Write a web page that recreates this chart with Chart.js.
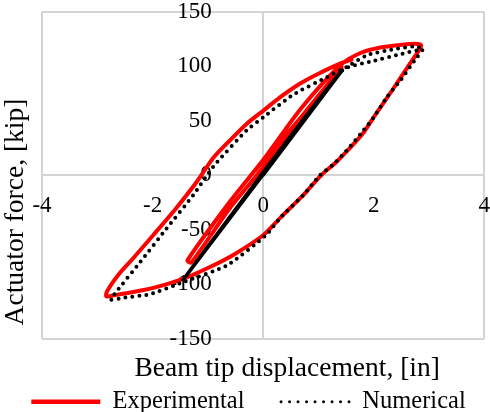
<!DOCTYPE html>
<html>
<head>
<meta charset="utf-8">
<script src="https://cdn.jsdelivr.net/npm/chart.js@4/dist/chart.umd.min.js"></script>
<style>
  html, body { margin: 0; padding: 0; background: #fff; }
  #wrap { width: 490px; height: 412px; position: relative; }
</style>
</head>
<body>
<div id="wrap"><canvas id="chart"></canvas></div>
<script>
// Experimental loop (red)
const expX = [-0.15, 0.7, 1.42, 0.7, 0.0, -0.6, -1.3, -1.37, -0.6, 0.0, 0.7, 1.40, 1.76, 2.12, 2.5, 2.75, 2.86,
  2.8, 2.6, 2.35, 2.05, 1.8, 1.55, 1.3, 1.05, 0.73, 0.31, 0.0, -0.54, -1.0, -1.45, -1.9, -2.35, -2.7, -2.84,
  -2.82, -2.6, -2.35, -1.99, -1.57, -1.2, -0.9, -0.6, -0.3, 0.0, 0.31, 0.67, 1.0, 1.4, 1.6];
const expY = [4, 54, 99, 54, 7, -30, -80, -78, -24, 14, 62, 101, 112, 117, 119.5, 120.5, 119,
  113, 98, 79, 57, 38, 24, 11, 0, -18, -39, -55, -73, -85, -95, -102, -107, -110, -111,
  -106, -90, -76, -55, -30, -6, 16, 32, 47, 59, 71.5, 84, 93, 102.5, 106];

// Numerical loop (black dotted), first three segments are the elastic branch
const numX = [0, 1.43, -1.45, 1.43, 1.94, 2.49, 2.88, 2.75, 2.5, 2.24, 2.0, 1.76, 1.5, 1.25, 1.03, 0.73, 0.31, 0.05,
  -0.66, -1.45, -2.05, -2.5, -2.75, -2.66, -2.23, -1.75, -1.26, -0.9, -0.3, 0.0, 0.55, 1.16, 1.52, 1.88,
  2.37, 2.72, 2.86];
const numY = [0, 96, -96, 96, 104, 111, 115, 106, 88, 71.6, 53, 37.7, 22, 9, 0, -18, -39, -55,
  -82.7, -98, -109, -112, -114, -107, -80, -49, -18, 8, 41, 53, 74, 90, 99.4, 110,
  115.4, 118, 117];

const xTicks = [-4, -2, 0, 2, 4];
const yTicks = [-150, -100, -50, 0, 50, 100, 150];

const toPoints = (xs, ys) => xs.map((x, i) => ({ x, y: ys[i] }));
const SERIF = "'Liberation Serif', 'Times New Roman', serif";
const GRID = '#d4d4d4';

new Chart(document.getElementById('chart'), {
  type: 'scatter',
  data: {
    datasets: [
      {
        label: 'Experimental',
        data: toPoints(expX, expY),
        showLine: true,
        borderColor: '#ff0000',
        backgroundColor: '#ff0000',
        borderWidth: 4,
        borderJoinStyle: 'round',
        borderCapStyle: 'round',
        pointRadius: 0,
        tension: 0.25,
        order: 1
      },
      {
        label: 'Numerical',
        data: toPoints(numX, numY),
        showLine: true,
        borderColor: '#000000',
        backgroundColor: '#000000',
        borderWidth: 4,
        borderDash: [0, 7],
        borderCapStyle: 'round',
        pointRadius: 0,
        tension: 0.2,
        order: 0,
        segment: {
          borderDash: ctx => ctx.p0DataIndex < 3 ? [] : undefined,
          borderWidth: ctx => ctx.p0DataIndex < 3 ? 3.5 : undefined
        }
      }
    ]
  },
  options: {
    responsive: true,
    maintainAspectRatio: false,
    animation: false,
    layout: { padding: { left: 7, right: 0, top: 0, bottom: -12 } },
    scales: {
      x: {
        type: 'linear',
        // labels sit a little under the zero line, like the Excel original
        position: { y: -18 },
        min: -4, max: 4,
        afterBuildTicks: s => { s.ticks = xTicks.map(v => ({ value: v })); },
        grid: {
          drawTicks: false,
          lineWidth: 2,
          color: c => (c.tick && (c.tick.value === 0 || Math.abs(c.tick.value) === 4)) ? GRID : 'rgba(0,0,0,0)'
        },
        border: { display: false },
        ticks: { color: '#000', padding: 0, font: { family: SERIF, size: 23, lineHeight: 1 } }
      },
      y: {
        type: 'linear',
        position: { x: -0.93 },
        min: -150, max: 150,
        afterBuildTicks: s => { s.ticks = yTicks.map(v => ({ value: v })); },
        grid: {
          drawTicks: false,
          lineWidth: 2,
          color: c => (c.tick && (c.tick.value === 0 || Math.abs(c.tick.value) === 150)) ? GRID : 'rgba(0,0,0,0)'
        },
        border: { display: false },
        ticks: { color: '#000', padding: 0, font: { family: SERIF, size: 23, lineHeight: 1 } }
      }
    },
    plugins: {
      tooltip: { enabled: false },
      title: {
        display: true,
        position: 'left',
        text: 'Actuator force, [kip]',
        color: '#000',
        font: { family: SERIF, size: 27.5, weight: 'normal', lineHeight: 1 },
        padding: { top: -5, bottom: 12.5 }
      },
      subtitle: {
        display: true,
        position: 'bottom',
        fullSize: false,
        text: '       Beam tip displacement, [in]',
        color: '#000',
        font: { family: SERIF, size: 27.5, weight: 'normal', lineHeight: 1 },
        padding: { top: 16.25, bottom: -5.25 }
      },
      legend: {
        position: 'bottom',
        weight: 3000,
        labels: {
          color: '#000',
          font: { family: SERIF, size: 24.5 },
          usePointStyle: true,
          pointStyle: 'line',
          pointStyleWidth: 69,
          padding: 12,
          sort: (a, b) => a.datasetIndex - b.datasetIndex,
          generateLabels: chart => {
            const items = Chart.defaults.plugins.legend.labels.generateLabels(chart);
            items.forEach(it => {
              it.pointStyle = 'line';
              if (it.datasetIndex === 1) {
                it.lineWidth = 3;
                it.lineDash = [0, 8.5];
                it.lineCap = 'round';
              } else {
                it.text += '    ';
                it.lineWidth = 4.5;
                it.lineDash = [];
              }
            });
            return items;
          }
        }
      }
    }
  }
});
</script>
</body>
</html>
